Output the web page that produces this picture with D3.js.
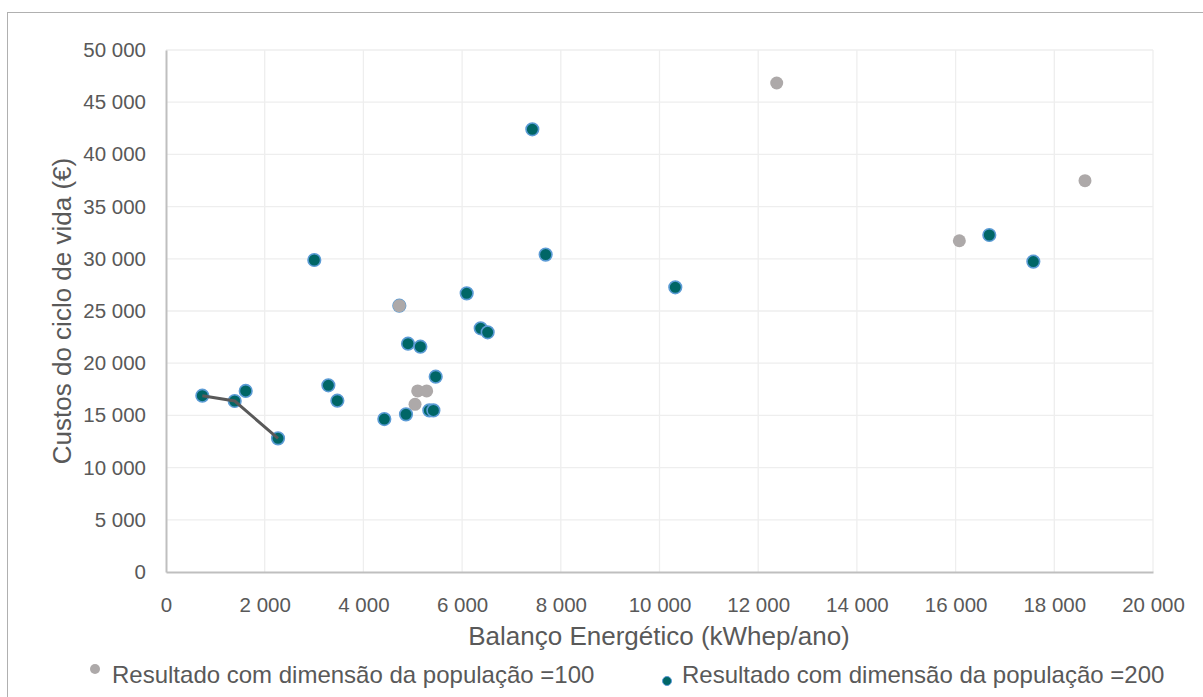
<!DOCTYPE html>
<html>
<head>
<meta charset="utf-8">
<script src="https://cdn.jsdelivr.net/npm/d3@7"></script>
<style>
  body { margin: 0; background: #fff; }
  text { font-family: "Liberation Sans", Arial, sans-serif; fill: #595959; }
</style>
</head>
<body>
<svg id="chart" width="1203" height="697"></svg>
<script>
// valores
var pop100X = [12375, 18622, 16076, 4728, 5100, 5282, 5046];
var pop100Y = [46840, 37480, 31730, 25510, 17340, 17340, 16060];

var pop200X = [736, 1392, 1615, 2270, 3290, 3472, 4424, 4863, 5336, 5418, 5465,
               3005, 4728, 6093, 7423, 7693, 10320, 16683, 17575,
               6377, 6518, 4904, 5154];
var pop200Y = [16890, 16380, 17340, 12800, 17880, 16410, 14650, 15100, 15480, 15480, 18710,
               29885, 25510, 26690, 42400, 30400, 27270, 32280, 29730,
               23340, 22960, 21870, 21580];

// linha (frente)
var frontX = [736, 1392, 2270];
var frontY = [16890, 16380, 12800];

var xTicks = [0, 2000, 4000, 6000, 8000, 10000, 12000, 14000, 16000, 18000, 20000];
var yTicks = [0, 5000, 10000, 15000, 20000, 25000, 30000, 35000, 40000, 45000, 50000];

var legendLabels = ["Resultado com dimensão da população =100", "Resultado com dimensão da população =200"];

var svg = d3.select("#chart");

// moldura
svg.append("rect")
    .attr("x", 7.5).attr("y", 12.5)
    .attr("width", 1230).attr("height", 720)
    .attr("fill", "none")
    .attr("stroke", "#b0b0b0");

var x = d3.scaleLinear().domain([0, 20000]).range([166, 1153]);
var y = d3.scaleLinear().domain([0, 50000]).range([572, 50]);

var fmt = function(d) { return d3.format(",")(d).replace(/,/g, " "); };

// grelha
svg.append("g")
    .selectAll("line")
    .data(xTicks.slice(1))
    .enter()
    .append("line")
    .attr("x1", function(d) { return x(d); })
    .attr("x2", function(d) { return x(d); })
    .attr("y1", y(50000))
    .attr("y2", y(0))
    .attr("stroke", "#eeeeee")
    .attr("stroke-width", 1.3);

svg.append("g")
    .selectAll("line")
    .data(yTicks.slice(1))
    .enter()
    .append("line")
    .attr("x1", x(0))
    .attr("x2", x(20000))
    .attr("y1", function(d) { return y(d); })
    .attr("y2", function(d) { return y(d); })
    .attr("stroke", "#eeeeee")
    .attr("stroke-width", 1.3);

// eixos
var xAxis = svg.append("g")
    .attr("transform", "translate(0," + y(0) + ")")
    .call(d3.axisBottom(x).tickValues(xTicks).tickFormat(fmt).tickSize(0).tickPadding(25));
var yAxis = svg.append("g")
    .attr("transform", "translate(" + x(0) + ",0)")
    .call(d3.axisLeft(y).tickValues(yTicks).tickFormat(fmt).tickSize(0).tickPadding(20));

[xAxis, yAxis].forEach(function(a) {
    a.select(".domain").attr("stroke", "#bfbfbf").attr("stroke-width", 2);
    a.selectAll("text")
	.attr("font-size", 20.5)
	.attr("fill", "#595959")
	.attr("font-family", "Liberation Sans, Arial, sans-serif");
});

// titulos
svg.append("text")
    .attr("x", 659).attr("y", 645)
    .attr("text-anchor", "middle")
    .attr("font-size", 26)
    .text("Balanço Energético (kWhep/ano)");

svg.append("text")
    .attr("transform", "translate(71,311) rotate(-90)")
    .attr("text-anchor", "middle")
    .attr("font-size", 26)
    .text("Custos do ciclo de vida (€)");

// pontos pop 200
svg.append("g")
    .selectAll("circle")
    .data(d3.range(pop200X.length))
    .enter()
    .append("circle")
    .attr("cx", function(i) { return x(pop200X[i]); })
    .attr("cy", function(i) { return y(pop200Y[i]); })
    .attr("r", 6.3)
    .attr("fill", "#006666")
    .attr("stroke", "#5b9bd5")
    .attr("stroke-width", 1.6);

// pontos pop 100
svg.append("g")
    .selectAll("circle")
    .data(d3.range(pop100X.length))
    .enter()
    .append("circle")
    .attr("cx", function(i) { return x(pop100X[i]); })
    .attr("cy", function(i) { return y(pop100Y[i]); })
    .attr("r", 6.5)
    .attr("fill", "#ada9a9");

// linha
svg.append("path")
    .datum(d3.range(frontX.length))
    .attr("d", d3.line()
	  .x(function(i) { return x(frontX[i]); })
	  .y(function(i) { return y(frontY[i]); }))
    .attr("fill", "none")
    .attr("stroke", "#595959")
    .attr("stroke-width", 3);

// legenda
var leg = svg.append("g");
leg.append("circle").attr("cx", 95).attr("cy", 669).attr("r", 5).attr("fill", "#ada9a9");
leg.append("text").attr("x", 112).attr("y", 683).attr("font-size", 24).text(legendLabels[0]);
leg.append("circle").attr("cx", 667).attr("cy", 681).attr("r", 4.5)
    .attr("fill", "#006666").attr("stroke", "#5b9bd5").attr("stroke-width", 1);
leg.append("text").attr("x", 682).attr("y", 683).attr("font-size", 24).text(legendLabels[1]);
</script>
</body>
</html>
